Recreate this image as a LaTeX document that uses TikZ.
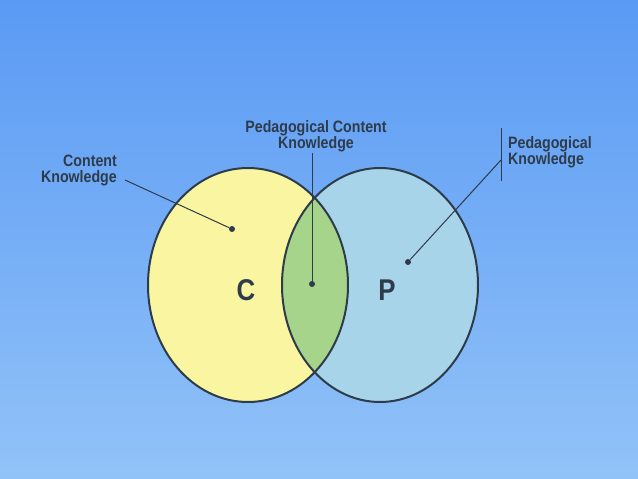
\documentclass[tikz,border=0pt]{standalone}
\usepackage{fontspec}
\setmainfont{Liberation Sans}[FakeStretch=0.86]
\usetikzlibrary{positioning}
\definecolor{bgtop}{HTML}{5A9AF4}
\definecolor{bgbot}{HTML}{92C3F8}
\definecolor{cyel}{HTML}{FAF5A0}
\definecolor{pblu}{HTML}{A8D4EA}
\definecolor{pgrn}{HTML}{A6D48A}
\definecolor{rim}{HTML}{2E3B4A}
\tikzset{
  lbl/.style={font=\fontsize{16.5}{16}\selectfont\bfseries, text=rim, inner sep=1pt, align=center},
  big/.style={font=\fontsize{30}{30}\selectfont\bfseries, text=rim},
  pin/.style={circle, fill=rim, inner sep=0pt, minimum size=6pt},
  lead/.style={rim, line width=1pt}
}
\begin{document}
\begin{tikzpicture}[x=1pt,y=-1pt]
	% background
	\shade[top color=bgtop, bottom color=bgbot] (0,0) rectangle (638,479);
	\useasboundingbox (0,0) rectangle (638,479);

	% circles C and P
	\fill[cyel] (248,285) ellipse (100 and 117);
	\fill[pblu] (380,285) ellipse (98 and 117);
	\begin{scope}
		\clip (248,285) ellipse (100 and 117);
		\fill[pgrn] (380,285) ellipse (98 and 117);
	\end{scope}
	\draw[rim, line width=2pt] (248,285) ellipse (100 and 117);
	\draw[rim, line width=2pt] (380,285) ellipse (98 and 117);

	\node[big] (LetterC) at (246,290) {C};
	\node[big] (LetterP) at (387,290) {P};

	% Content Knowledge
	\node[lbl, align=right, anchor=east] (Content) at (118,170) {Content\\Knowledge};
	\node[pin] (DotC) at (232,229) {};
	\draw[lead] (125,180) coordinate (EndC) -- (DotC);

	% Pedagogical Content Knowledge
	\node[lbl] (PedCont) at (316,136) {Pedagogical Content\\Knowledge};
	\node[pin] (DotPC) at (312,284) {};
	\draw[lead] (PedCont.south -| DotPC) -- (DotPC);

	% Pedagogical Knowledge
	\node[lbl, align=left, anchor=west] (Ped) at (507,152) {Pedagogical\\Knowledge};
	\coordinate (BarTop) at (501,128);
	\coordinate (BarBot) at (501,181);
	\draw[lead] (BarTop) -- (BarBot);
	\node[pin] (DotP) at (408,262) {};
	\draw[lead] (501,160) coordinate (EndP) -- (DotP);
\end{tikzpicture}
\end{document}
